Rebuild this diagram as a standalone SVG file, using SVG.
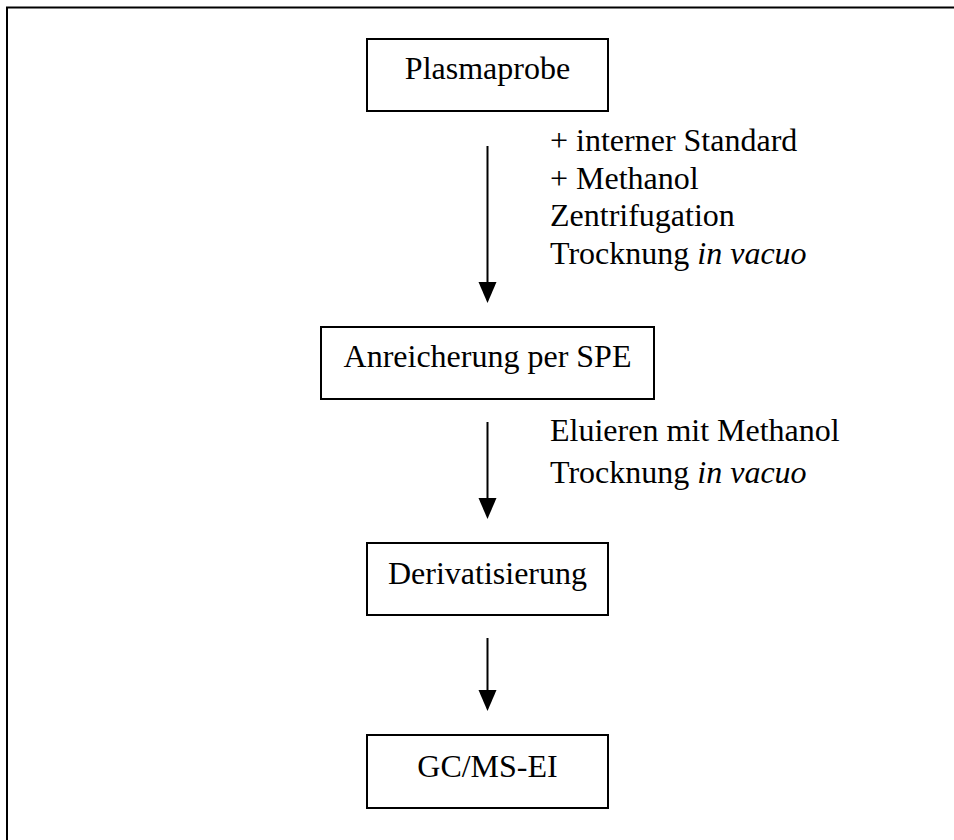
<svg xmlns="http://www.w3.org/2000/svg" width="954" height="840" viewBox="0 0 954 840">
  <style>
    .frame { fill: none; stroke: #000; stroke-width: 2; }
    .box { fill: #fff; stroke: #000; stroke-width: 2; }
    .label { font-family: "Liberation Serif", "Times New Roman", serif; font-size: 32px; fill: #000; }
    .mid { text-anchor: middle; }
    .conn { stroke: #000; stroke-width: 2; fill: none; }
    .head { fill: #000; stroke: none; }
  </style>
  <rect width="954" height="840" fill="#fff"/>
  <!-- outer frame (right and bottom edges run past the page) -->
  <rect class="frame" x="7" y="7.5" width="960" height="850"/>

  <g id="plasmaprobe">
    <rect class="box" x="367" y="39" width="241" height="72"/>
    <text class="label mid" x="487.5" y="79">Plasmaprobe</text>
  </g>

  <g id="anreicherung">
    <rect class="box" x="321" y="327" width="333" height="72"/>
    <text class="label mid" x="487.5" y="367">Anreicherung per SPE</text>
  </g>

  <g id="derivatisierung">
    <rect class="box" x="367" y="543" width="241" height="72"/>
    <text class="label mid" x="487.5" y="584">Derivatisierung</text>
  </g>

  <g id="gcms">
    <rect class="box" x="367" y="735" width="241" height="73"/>
    <text class="label mid" x="487.5" y="777">GC/MS-EI</text>
  </g>

  <g id="connectors">
    <line class="conn" x1="487.5" y1="146" x2="487.5" y2="284"/>
    <polygon class="head" points="478.5,282 496.5,282 487.5,303"/>
    <line class="conn" x1="487.5" y1="422" x2="487.5" y2="500"/>
    <polygon class="head" points="478.5,498 496.5,498 487.5,519"/>
    <line class="conn" x1="487.5" y1="638" x2="487.5" y2="692"/>
    <polygon class="head" points="478.5,690 496.5,690 487.5,711"/>
  </g>

  <g id="step-notes">
    <text class="label" x="550" y="151">+ interner Standard</text>
    <text class="label" x="550" y="189">+ Methanol</text>
    <text class="label" x="550" y="226">Zentrifugation</text>
    <text class="label" x="550" y="264">Trocknung <tspan font-style="italic">in vacuo</tspan></text>
    <text class="label" x="550" y="441">Eluieren mit Methanol</text>
    <text class="label" x="550" y="483">Trocknung <tspan font-style="italic">in vacuo</tspan></text>
  </g>
</svg>
